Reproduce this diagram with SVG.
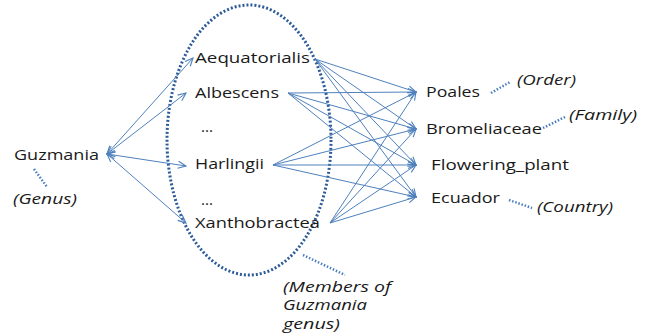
<svg xmlns="http://www.w3.org/2000/svg" width="652" height="334" viewBox="0 0 652 334">
<style>
text{font-family:"Open Sans","Liberation Sans",sans-serif;font-size:15px;fill:#1a1a1a}
.it{font-style:italic}
.m{font-size:14px}
.c{stroke:#4F81BD;stroke-width:1;fill:none;marker-end:url(#ah)}
.d{marker-start:url(#ah)}
.dot{stroke:#4A7CC0;stroke-width:2.5;fill:none;stroke-dasharray:1.5 1.8}
.ell{stroke:#2E5C9A;stroke-width:3;fill:none;stroke-dasharray:2 2}
</style>
<defs>
<marker id="ah" viewBox="0 0 10 10" refX="9" refY="5" markerWidth="10" markerHeight="10" markerUnits="userSpaceOnUse" orient="auto-start-reverse">
<path d="M1,1.5 L9,5 L1,8.5" fill="none" stroke="#4F81BD" stroke-width="1.1"/>
</marker>
</defs>
<rect width="652" height="334" fill="#fff"/>
<ellipse class="ell" cx="249" cy="140" rx="82" ry="135"/>
<g id="connectors">
<line class="c d" x1="107" y1="154" x2="193" y2="58"/>
<line class="c d" x1="107" y1="154" x2="186" y2="93"/>
<line class="c d" x1="107" y1="154" x2="186" y2="166"/>
<line class="c d" x1="107" y1="154" x2="186" y2="223"/>
<line class="c" x1="315" y1="59" x2="416" y2="92"/>
<line class="c" x1="315" y1="59" x2="416" y2="129"/>
<line class="c" x1="315" y1="59" x2="416" y2="165"/>
<line class="c" x1="315" y1="59" x2="416" y2="197"/>
<line class="c" x1="288" y1="93" x2="416" y2="92"/>
<line class="c" x1="288" y1="93" x2="416" y2="129"/>
<line class="c" x1="288" y1="93" x2="416" y2="165"/>
<line class="c" x1="288" y1="93" x2="416" y2="197"/>
<line class="c" x1="273" y1="165" x2="416" y2="92"/>
<line class="c" x1="273" y1="165" x2="416" y2="129"/>
<line class="c" x1="273" y1="165" x2="416" y2="165"/>
<line class="c" x1="273" y1="165" x2="416" y2="197"/>
<line class="c" x1="330" y1="223" x2="416" y2="92"/>
<line class="c" x1="330" y1="223" x2="416" y2="129"/>
<line class="c" x1="330" y1="223" x2="416" y2="165"/>
<line class="c" x1="330" y1="223" x2="416" y2="197"/>
<line class="dot" x1="34" y1="169" x2="47" y2="187"/>
<line class="dot" x1="491" y1="93" x2="510" y2="82"/>
<line class="dot" x1="543" y1="128" x2="565" y2="117"/>
<line class="dot" x1="509" y1="200" x2="532" y2="208"/>
<line class="dot" x1="303" y1="255" x2="345" y2="275"/>
</g>
<g id="guzmania"><text x="14" y="160" textLength="85" lengthAdjust="spacingAndGlyphs">Guzmania</text></g>
<g id="genus-label"><text class="it" x="13" y="204" textLength="64" lengthAdjust="spacingAndGlyphs">(Genus)</text></g>
<g id="aequatorialis"><text x="195" y="63" textLength="115" lengthAdjust="spacingAndGlyphs">Aequatorialis</text></g>
<g id="albescens"><text x="195" y="98" textLength="84" lengthAdjust="spacingAndGlyphs">Albescens</text></g>
<g id="dots1"><text x="201" y="132" textLength="12" lengthAdjust="spacingAndGlyphs">...</text></g>
<g id="harlingii"><text x="195" y="169" textLength="69" lengthAdjust="spacingAndGlyphs">Harlingii</text></g>
<g id="dots2"><text x="201" y="205" textLength="12" lengthAdjust="spacingAndGlyphs">...</text></g>
<g id="xanthobractea"><text x="195" y="228" textLength="125" lengthAdjust="spacingAndGlyphs">Xanthobractea</text></g>
<g id="poales"><text x="426" y="97" textLength="54" lengthAdjust="spacingAndGlyphs">Poales</text></g>
<g id="order-label"><text class="it" x="517" y="85" textLength="59" lengthAdjust="spacingAndGlyphs">(Order)</text></g>
<g id="bromeliaceae"><text x="426" y="134" textLength="116" lengthAdjust="spacingAndGlyphs">Bromeliaceae</text></g>
<g id="family-label"><text class="it" x="569" y="120" textLength="68" lengthAdjust="spacingAndGlyphs">(Family)</text></g>
<g id="flowering"><text x="431" y="170" textLength="138" lengthAdjust="spacingAndGlyphs">Flowering_plant</text></g>
<g id="ecuador"><text x="431" y="203" textLength="69" lengthAdjust="spacingAndGlyphs">Ecuador</text></g>
<g id="country-label"><text class="it" x="537" y="212" textLength="76" lengthAdjust="spacingAndGlyphs">(Country)</text></g>
<g id="members-label">
<text class="it m" x="283" y="292" textLength="108" lengthAdjust="spacingAndGlyphs">(Members of</text>
<text class="it m" x="283" y="310" textLength="84" lengthAdjust="spacingAndGlyphs">Guzmania</text>
<text class="it m" x="283" y="329" textLength="57" lengthAdjust="spacingAndGlyphs">genus)</text>
</g>
</svg>
